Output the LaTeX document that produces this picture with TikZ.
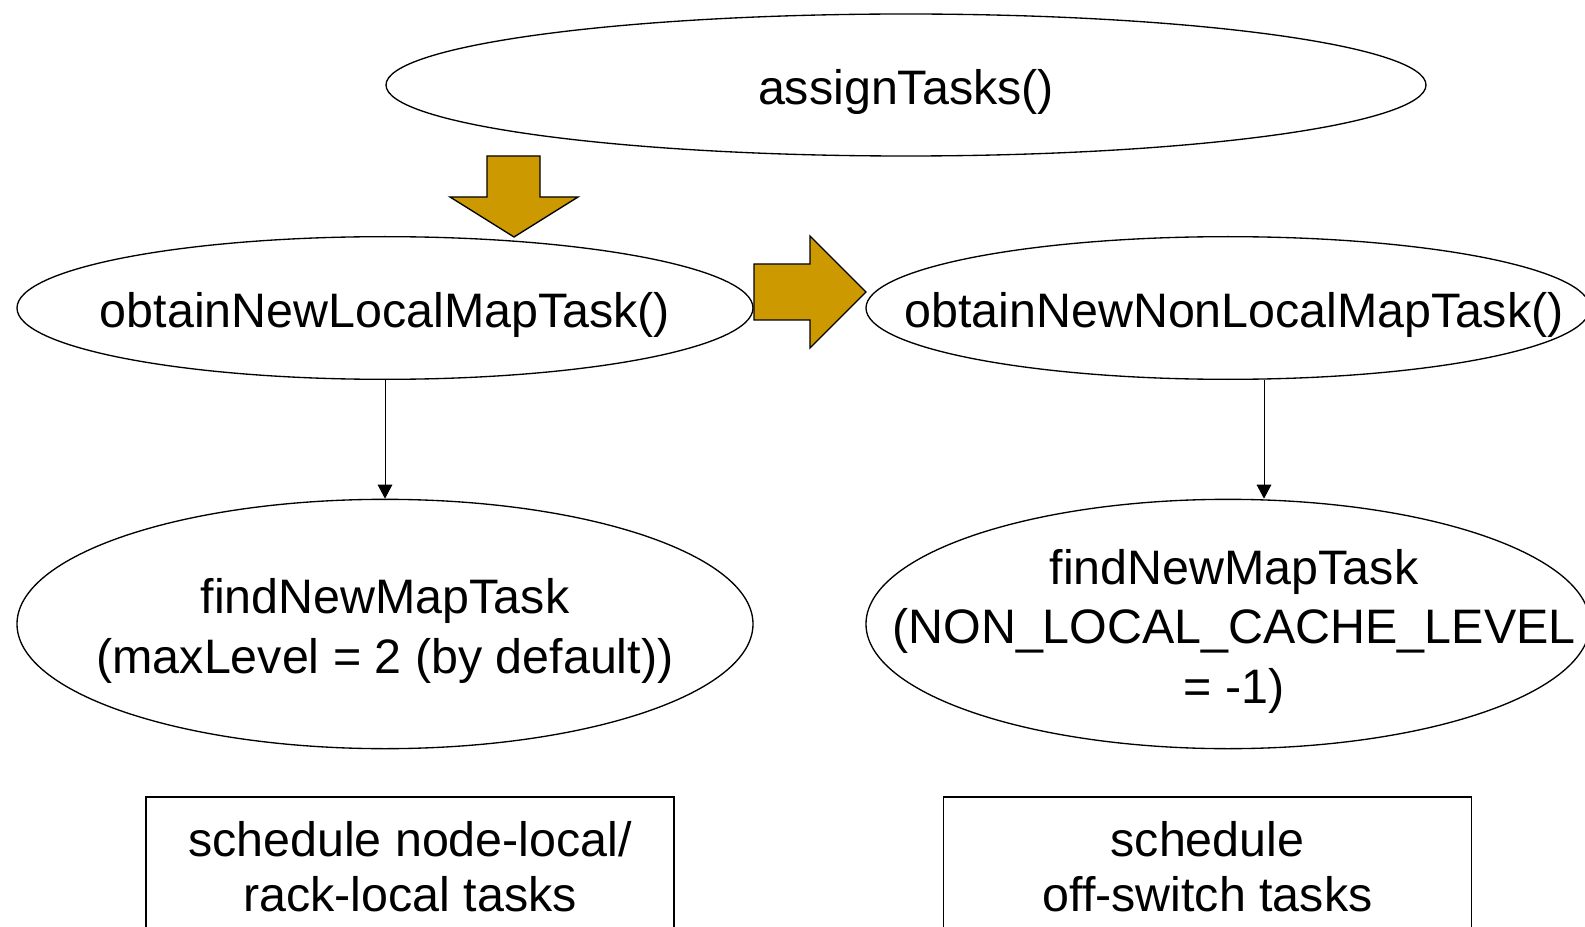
\documentclass[tikz,border=0pt]{standalone}
\usepackage{fontspec}
\setmainfont{Liberation Sans}
\usetikzlibrary{shapes.geometric,arrows.meta}
\definecolor{gold}{RGB}{204,153,0}
\tikzset{
  oval/.style={ellipse, draw, line width=1pt, inner sep=0pt},
  lbl/.style={align=center, yshift=-5.5pt, font=\fontsize{36.3}{44.8}\selectfont},
  taskbox/.style={rectangle, draw, line width=1pt, inner sep=0pt, align=center, font=\fontsize{36.3}{41.5}\selectfont, minimum width=396pt, minimum height=105pt},
  link/.style={-{Triangle[width=11pt,length=10.5pt]}, line width=0.75pt},
  blockarrow/.style={draw, fill=gold, line width=1pt, line join=miter}
}

\begin{document}
\begin{tikzpicture}[x=0.75pt,y=0.75pt,yscale=-1,xscale=1]
\useasboundingbox (0,0) rectangle (1585,927);

%Shape: Ellipse [assignTasks]
\node[oval, minimum width=780pt, minimum height=106.5pt, label={[lbl]center:assignTasks()}] (assign) at (906,85) {};
%Shape: Ellipse [local]
\node[oval, minimum width=552pt, minimum height=107pt, label={[lbl]center:obtainNewLocalMapTask()}] (loc) at (385,308) {};
%Shape: Ellipse [non-local]
\node[oval, minimum width=543pt, minimum height=107pt, label={[lbl,xshift=4.5pt]center:obtainNewNonLocalMapTask()}] (nonloc) at (1228,308) {};
%Shape: Ellipse [find local]
\node[oval, minimum width=552pt, minimum height=187pt, label={[lbl]center:findNewMapTask\\(maxLevel = 2 (by default))}] (findloc) at (385,624) {};
%Shape: Ellipse [find non-local]
\node[oval, minimum width=543pt, minimum height=187pt, label={[lbl,xshift=4.5pt]center:findNewMapTask\\(NON\_LOCAL\_CACHE\_LEVEL\\= -1)}] (findnonloc) at (1228,624) {};

%Straight Lines
\draw[link] (loc.south) -- (findloc.north);
\draw[link] ([xshift=27pt]nonloc.south) -- ([xshift=27pt]findnonloc.north);

%Shape: Down Arrow
\draw[blockarrow] (487,156) -- (540,156) -- (540,197) -- (578,197) -- (514,237) -- (450,197) -- (487,197) -- cycle;
%Shape: Right Arrow
\draw[blockarrow] (754,264) -- (810,264) -- (810,236) -- (866,292) -- (810,348) -- (810,320) -- (754,320) -- cycle;

% Text Node
\node[taskbox] (schedloc) at (410,867) {schedule node-local/\\rack-local tasks};
% Text Node
\node[taskbox] (schednonloc) at (1207.5,867) {schedule\\off-switch tasks};

\end{tikzpicture}
\end{document}
